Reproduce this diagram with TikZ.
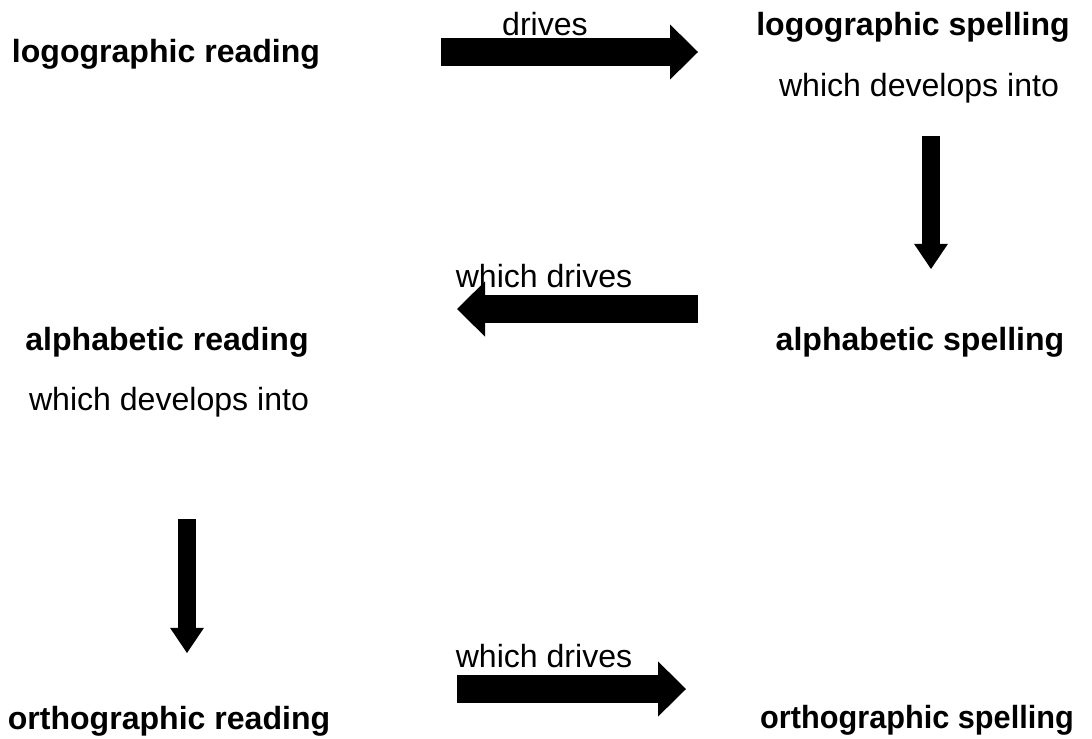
\documentclass[tikz,border=0pt]{standalone}
\usepackage{fontspec}
\setmainfont{Liberation Sans}
\usetikzlibrary{arrows.meta}
\tikzset{
  stage/.style={anchor=base, inner sep=0pt, font=\fontsize{22.8}{27}\selectfont\bfseries},
  note/.style={anchor=base, inner sep=0pt, font=\fontsize{22.8}{27}\selectfont},
  wide arrow/.style={line width=0.7cm, -{Triangle[length=0.7cm, width=1.38cm, line width=0pt]}},
  slim arrow/.style={line width=0.43cm, -{Triangle[length=0.63cm, width=0.85cm, line width=0pt]}}
}
\begin{document}
\begin{tikzpicture}[x=0.025cm, y=-0.025cm]
            \useasboundingbox (0,0) rectangle (1092,738);

            % reading and spelling stages
            \node[stage] (logread) at (166,62) {logographic reading};
            \node[stage] (logspell) at (913,35) {logographic spelling};
            \node[note] (logspellnote) at (919,96) {which develops into};
            \node[stage] (alphread) at (167,350) {alphabetic reading};
            \node[note] (alphreadnote) at (169,410) {which develops into};
            \node[stage] (alphspell) at (920,350) {alphabetic spelling};
            \node[stage] (orthread) at (169,729) {orthographic reading};
            \node[stage] (orthspell) at (917,728) {\scalebox{0.957}[1]{orthographic spelling}};

            % arrow labels
            \node[note] (drivesA) at (545,35) {drives};
            \node[note] (drivesB) at (544,287) {which drives};
            \node[note] (drivesC) at (544,667) {which drives};

            % arrow ends
            \coordinate (a1s) at (441,52);   \coordinate (a1e) at (698,52);
            \coordinate (a2s) at (698,309);  \coordinate (a2e) at (457,309);
            \coordinate (a3s) at (931,136);  \coordinate (a3e) at (931,269);
            \coordinate (a4s) at (187,519);  \coordinate (a4e) at (187,653);
            \coordinate (a5s) at (457,689);  \coordinate (a5e) at (686,689);

            \draw[wide arrow] (a1s) -- (a1e);
            \draw[wide arrow] (a2s) -- (a2e);
            \draw[slim arrow] (a3s) -- (a3e);
            \draw[slim arrow] (a4s) -- (a4e);
            \draw[wide arrow] (a5s) -- (a5e);
        \end{tikzpicture}
\end{document}
